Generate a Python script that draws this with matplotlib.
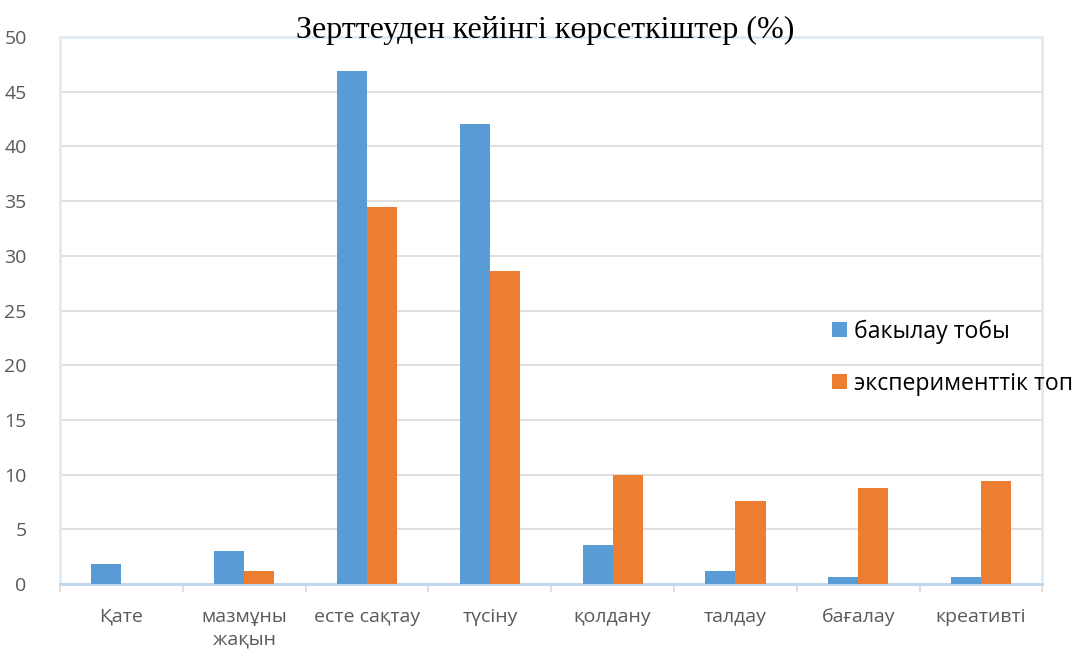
import numpy as np
from matplotlib import pyplot as plt

categories = ['Қате', 'мазмұны\nжақын', 'есте сақтау', 'түсіну', 'қолдану', 'талдау', 'бағалау', 'креативті']
control = [1.8, 3.0, 46.9, 42.1, 3.6, 1.2, 0.6, 0.6]
experiment = [0.0, 1.2, 34.5, 28.6, 10.0, 7.6, 8.8, 9.4]
series_names = ['бакылау тобы', 'эксперименттік топ']

plt.rcParams['font.family'] = ['Open Sans', 'DejaVu Sans']

fig = plt.figure(figsize=(10.76, 6.51), dpi=100)
ax = fig.add_axes([0.0558, 0.103, 0.913, 0.84])

x = np.arange(len(categories))
w = 0.245
ax.bar(x - w/2, control, w, color='#5B9BD5', label=series_names[0], zorder=3)
ax.bar(x + w/2, experiment, w, color='#ED7D31', label=series_names[1], zorder=3)

ax.set_xlim(-0.5, len(categories) - 0.5)
ax.set_ylim(0, 50)
ax.set_yticks(np.arange(0, 51, 5))
ax.yaxis.grid(True, color='#D9D9D9', linewidth=1.2, zorder=0)
ax.tick_params(axis='y', length=0, labelsize=14, labelcolor='#595959', pad=24)

ax.set_xticks(x)
ax.set_xticklabels(categories, fontsize=14, color='#595959', linespacing=1.35)
ax.set_xticks(np.arange(-0.5, len(categories)), minor=True)
ax.tick_params(axis='x', which='major', length=0, pad=17)
ax.tick_params(axis='x', which='minor', length=6, color='#D9D9D9', width=1.2)

for s in ['top', 'right', 'left']:
    ax.spines[s].set_color('#DDEBF7')
    ax.spines[s].set_linewidth(2)
ax.spines['bottom'].set_color('#BDD7EE')
ax.spines['bottom'].set_linewidth(2)

fig.text(0.507, 0.953, 'Зерттеуден кейінгі көрсеткіштер (%)', ha='center', va='center',
         family='Liberation Serif', fontsize=23)

ax.legend(loc='center left', bbox_to_anchor=(0.765, 0.414), frameon=False, fontsize=16.6,
          handlelength=0.65, handleheight=0.65, handletextpad=0.3, labelspacing=1.2)

fig.savefig('out.png', dpi=100)
